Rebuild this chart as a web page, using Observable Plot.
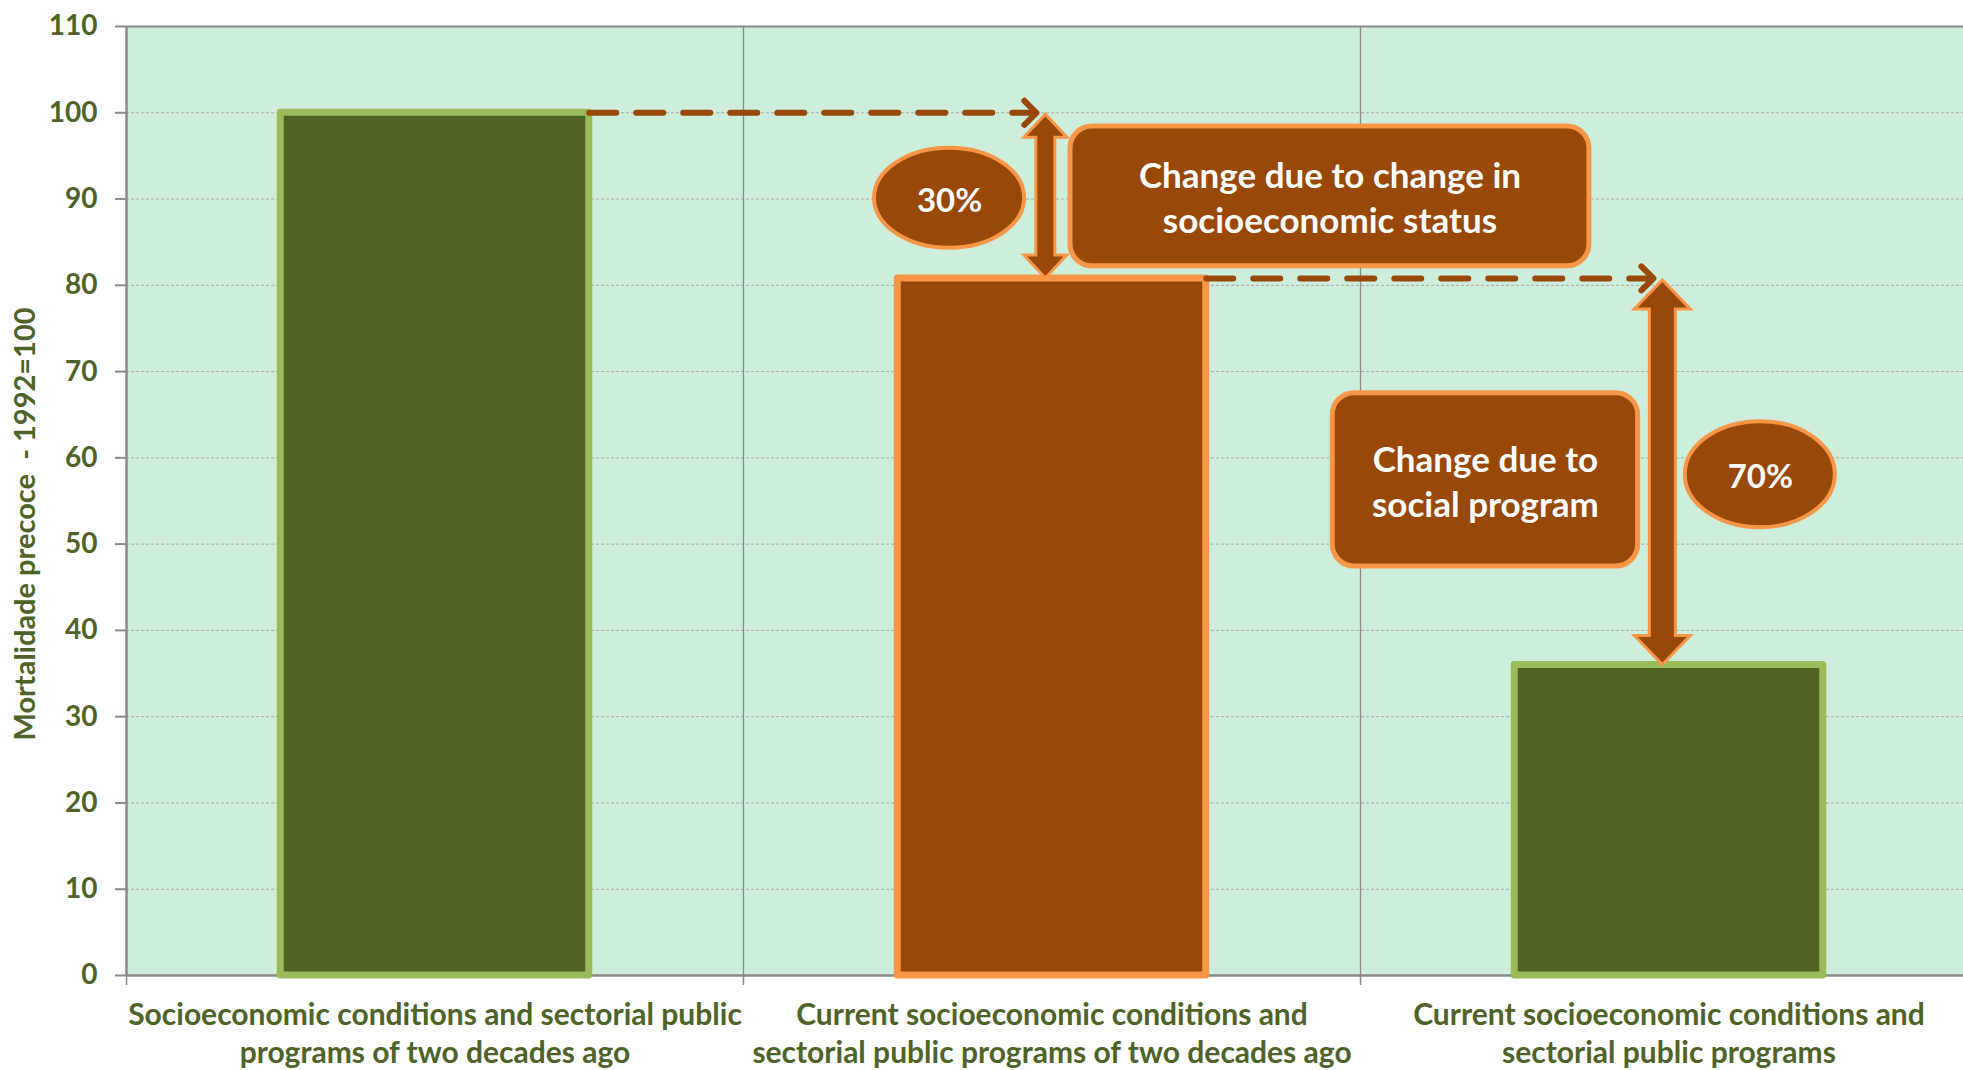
<!DOCTYPE html>
<html>
<head>
<meta charset="utf-8">
<script src="https://cdn.jsdelivr.net/npm/d3@7"></script>
<script src="https://cdn.jsdelivr.net/npm/@observablehq/plot@0.6"></script>
<style>
  html, body { margin: 0; padding: 0; background: #ffffff; overflow: hidden; }
  #chart svg { display: block; }
</style>
</head>
<body>
<div id="chart"></div>
<script>
// Early mortality index (1992 = 100) under three scenarios
const categories = [
  "Socioeconomic conditions and sectorial public\nprograms of two decades ago",
  "Current socioeconomic conditions and\nsectorial public programs of two decades ago",
  "Current socioeconomic conditions and\nsectorial public programs"
];
const values = [100, 80.8, 36];
const barKinds = ["scenario", "counterfactual", "scenario"];
const changeNotes = [
  "Change due to change in\nsocioeconomic status",
  "Change due to\nsocial program"
];
const yTicks = [0, 10, 20, 30, 40, 50, 60, 70, 80, 90, 100, 110];
const yTitle = "Mortalidade precoce  - 1992=100";

// palette
const darkGreen = "#4F6228", lightGreen = "#9BBB59";
const brown = "#984807", orange = "#F79646";
const plotBg = "#CEEEDC", axisGray = "#8A8A8A", gridGray = "#A8A8A8";
const font = "Lato, 'Open Sans', sans-serif";

// one row per bar, centred in its category slot
const rows = categories.map((label, i) => ({
  label, value: values[i], kind: barKinds[i], pos: i + 0.5
}));

// each step down between consecutive bars, with its share of the total fall
const totalFall = values[0] - values[values.length - 1];
const drops = d3.range(values.length - 1).map(i => ({
  from: values[i],
  to: values[i + 1],
  mid: (values[i] + values[i + 1]) / 2,
  share: d3.format(".0%")((values[i] - values[i + 1]) / totalFall),
  note: changeNotes[i]
}));

// placement of the annotation shapes for each step
const noteLayout = [
  {arrowX: 1.49, shaft: 9.5, head: 21.5, headLen: 23, ellipseX: 1.334, ellipseHalf: 5.8, ellipseDy: -0.3,
   boxX: [1.530, 2.371], boxY: [98.4, 82.2]},
  {arrowX: 2.49, shaft: 13, head: 28, headLen: 29, ellipseX: 2.648, ellipseHalf: 6.15, ellipseDy: -0.35,
   boxX: [1.955, 2.450], boxY: [67.5, 47.4]}
];
const ellipseHalfWidth = 0.1216;

const notes = drops.map((d, i) => ({...d, ...noteLayout[i]}));

// dashed connectors from the top of each bar to the next step's arrow
const connectors = drops.flatMap((d, i) => [
  {k: i, x: rows[i].pos + 0.25, y: d.from},
  {k: i, x: noteLayout[i].arrowX - 0.025, y: d.from}
]);

// double-headed block arrows spanning each step
function blockArrows(index, scales) {
  const {x, y} = scales;
  const g = d3.create("svg:g");
  notes.forEach(n => {
    const cx = x(n.arrowX), y1 = y(n.from) + 2, y2 = y(n.to);
    const s = n.shaft, h = n.head, hl = n.headLen;
    const pts = [
      [cx, y1], [cx + h, y1 + hl], [cx + s, y1 + hl], [cx + s, y2 - hl], [cx + h, y2 - hl],
      [cx, y2], [cx - h, y2 - hl], [cx - s, y2 - hl], [cx - s, y1 + hl], [cx - h, y1 + hl]
    ];
    g.append("polygon")
      .attr("points", pts.map(p => p.join(",")).join(" "))
      .attr("fill", brown)
      .attr("stroke", orange)
      .attr("stroke-width", 3);
  });
  return g.node();
}

const chart = Plot.plot({
  width: 1963,
  height: 1070,
  marginLeft: 126,
  marginRight: 0,
  marginTop: 26,
  marginBottom: 95,
  style: {fontFamily: font, overflow: "hidden", background: "#ffffff"},
  x: {domain: [0, categories.length], range: [126, 1977], axis: null},
  y: {domain: [0, 110], axis: null},
  color: {type: "identity"},
  marks: [
    Plot.frame({fill: plotBg, stroke: "none"}),
    // horizontal gridlines
    Plot.ruleY(yTicks.filter(t => t > 0 && t < 110), {stroke: gridGray, strokeWidth: 1, strokeDasharray: "3,2"}),
    // plot border, category dividers and axis lines
    Plot.ruleY([110], {stroke: axisGray, strokeWidth: 2}),
    Plot.ruleX(d3.range(1, categories.length), {y1: 0, y2: 110, stroke: axisGray, strokeWidth: 1.3}),
    Plot.ruleX([0], {y1: 0, y2: 110, stroke: axisGray, strokeWidth: 2.5}),
    Plot.ruleY([0], {stroke: axisGray, strokeWidth: 2.5}),
    Plot.axisX(d3.range(0, categories.length + 1), {tickSize: 10, tickFormat: () => "", stroke: axisGray, strokeWidth: 1.5}),
    Plot.axisY(yTicks, {
      tickSize: 11, tickPadding: 18, stroke: axisGray, strokeWidth: 2,
      fill: darkGreen, fontSize: 28, fontWeight: "bold", fontFamily: font
    }),
    // bars
    Plot.rectY(rows, {
      x1: d => d.pos - 0.25, x2: d => d.pos + 0.25, y1: 0, y2: "value",
      fill: d => d.kind === "scenario" ? darkGreen : brown,
      stroke: d => d.kind === "scenario" ? lightGreen : orange,
      strokeWidth: 7, strokeLinejoin: "round"
    }),
    // category labels
    Plot.text(rows, {
      x: "pos", y: () => 0, text: "label", lineAnchor: "top", dy: 22,
      fill: darkGreen, fontSize: 30, fontWeight: "bold", fontFamily: font, lineHeight: 1.27
    }),
    // y title
    Plot.text([yTitle], {
      frameAnchor: "left", dx: -101, dy: 23, rotate: -90, textAnchor: "middle", text: d => d,
      fill: darkGreen, fontSize: 29, fontWeight: "bold", fontFamily: font
    }),
    // step connectors
    Plot.line(connectors, {
      x: "x", y: "y", z: "k", stroke: brown, strokeWidth: 6,
      strokeDasharray: "27,20", markerEnd: "arrow"
    }),
    blockArrows,
    // explanation boxes
    Plot.rect(notes, {
      x1: d => d.boxX[0], x2: d => d.boxX[1], y1: d => d.boxY[0], y2: d => d.boxY[1],
      rx: 22, fill: brown, stroke: orange, strokeWidth: 5
    }),
    Plot.text(notes, {
      x: d => (d.boxX[0] + d.boxX[1]) / 2, y: d => (d.boxY[0] + d.boxY[1]) / 2,
      text: "note", fill: "#ffffff", fontSize: 35, fontWeight: "bold", fontFamily: font, lineHeight: 1.29
    }),
    // share ellipses
    Plot.rect(notes, {
      x1: d => d.ellipseX - ellipseHalfWidth, x2: d => d.ellipseX + ellipseHalfWidth,
      y1: d => d.mid + d.ellipseDy - d.ellipseHalf, y2: d => d.mid + d.ellipseDy + d.ellipseHalf,
      rx: 500, ry: 500, fill: brown, stroke: orange, strokeWidth: 4
    }),
    Plot.text(notes, {
      x: "ellipseX", y: d => d.mid + d.ellipseDy, dy: 3, text: "share",
      fill: "#ffffff", fontSize: 33, fontWeight: "bold", fontFamily: font
    })
  ]
});

document.getElementById("chart").append(chart);
</script>
</body>
</html>
